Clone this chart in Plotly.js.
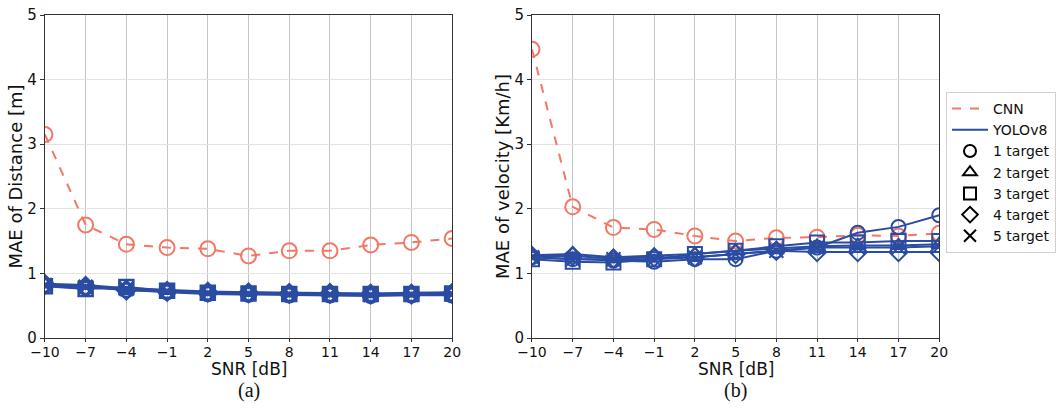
<!DOCTYPE html>
<html><head><meta charset="utf-8">
<script src="https://cdn.plot.ly/plotly-3.0.1.min.js"></script>
<style>html,body{margin:0;padding:0;background:#fff}#chart{width:1056px;height:417px}</style>
</head><body><div id="chart"></div>
<script>
const snr = [-10, -7, -4, -1, 2, 5, 8, 11, 14, 17, 20];
const tickLabels = ["−10", "−7", "−4", "−1", "2", "5", "8", "11", "14", "17", "20"];

const cnnDistance = [3.15, 1.75, 1.45, 1.40, 1.38, 1.27, 1.35, 1.35, 1.44, 1.48, 1.54];
const cnnVelocity = [4.47, 2.03, 1.71, 1.68, 1.58, 1.50, 1.55, 1.56, 1.59, 1.58, 1.62];

const yoloDist1 = [0.82, 0.78, 0.74, 0.71, 0.68, 0.67, 0.66, 0.66, 0.65, 0.66, 0.66];
const yoloDist2 = [0.84, 0.82, 0.77, 0.74, 0.72, 0.71, 0.70, 0.70, 0.69, 0.70, 0.71];
const yoloDist3 = [0.80, 0.76, 0.79, 0.73, 0.70, 0.69, 0.68, 0.68, 0.68, 0.68, 0.69];
const yoloDist4 = [0.83, 0.80, 0.74, 0.72, 0.71, 0.70, 0.69, 0.69, 0.68, 0.68, 0.69];
const yoloDist5 = [0.82, 0.79, 0.76, 0.73, 0.70, 0.69, 0.68, 0.68, 0.67, 0.67, 0.68];

const yoloVel1 = [1.25, 1.22, 1.20, 1.18, 1.22, 1.22, 1.35, 1.40, 1.63, 1.72, 1.90];
const yoloVel2 = [1.28, 1.30, 1.25, 1.27, 1.30, 1.35, 1.38, 1.42, 1.43, 1.43, 1.45];
const yoloVel3 = [1.22, 1.18, 1.17, 1.22, 1.30, 1.35, 1.42, 1.48, 1.48, 1.50, 1.50];
const yoloVel4 = [1.27, 1.27, 1.23, 1.25, 1.25, 1.30, 1.35, 1.33, 1.33, 1.33, 1.33];
const yoloVel5 = [1.25, 1.22, 1.22, 1.22, 1.25, 1.30, 1.35, 1.40, 1.40, 1.40, 1.42];

const targetNames = ["1 target", "2 target", "3 target", "4 target", "5 target"];
const symbols = ["circle-open", "triangle-up-open", "square-open", "diamond-open", "x-thin-open"];

const RED = "#F47766";
const BLUE = "#2A4CA2";
const FONT = "DejaVu Sans, sans-serif";

const traces = [];
function cnnTrace(y, xa, ya) {
  return {x: snr, y: y, xaxis: xa, yaxis: ya, mode: "lines+markers", showlegend: false,
    line: {color: RED, width: 2, dash: "dash"},
    marker: {symbol: "circle-open", size: 15, color: RED, line: {width: 2, color: RED}}};
}
traces.push(cnnTrace(cnnDistance, "x", "y"));
traces.push(cnnTrace(cnnVelocity, "x2", "y2"));

const distSets = [yoloDist1, yoloDist2, yoloDist3, yoloDist4, yoloDist5];
const velSets = [yoloVel1, yoloVel2, yoloVel3, yoloVel4, yoloVel5];
distSets.forEach((y, i) => traces.push({x: snr, y: y, xaxis: "x", yaxis: "y", mode: "lines+markers", showlegend: false,
  line: {color: BLUE, width: 2},
  marker: {symbol: symbols[i], size: 14, color: BLUE, line: {width: 2.5, color: BLUE}}}));
velSets.forEach((y, i) => traces.push({x: snr, y: y, xaxis: "x2", yaxis: "y2", mode: "lines+markers", showlegend: false,
  line: {color: BLUE, width: 2},
  marker: {symbol: symbols[i], size: 14, color: BLUE, line: {width: 2, color: BLUE}}}));

// legend-only entries
traces.push({x: [null], y: [null], xaxis: "x2", yaxis: "y2", mode: "lines", name: "CNN",
  line: {color: RED, width: 2, dash: "dash"}});
traces.push({x: [null], y: [null], xaxis: "x2", yaxis: "y2", mode: "lines", name: "YOLOv8",
  line: {color: BLUE, width: 2}});
targetNames.forEach((n, i) => traces.push({x: [null], y: [null], xaxis: "x2", yaxis: "y2", mode: "markers", name: n,
  marker: {symbol: symbols[i], size: 12, color: "#000", line: {width: 2, color: "#000"}}}));

function xaxisDef(domain, anchor) {
  return {domain: domain, anchor: anchor, range: [-10, 20], tickvals: snr, ticktext: tickLabels,
    showline: true, mirror: true, linecolor: "#333", linewidth: 1,
    showgrid: true, gridcolor: "#c4c4c4", gridwidth: 1, zeroline: false,
    ticks: "outside", ticklen: 3, tickcolor: "#333", ticklabelstandoff: -2,
    tickfont: {family: FONT, size: 14, color: "#111"}};
}
function yaxisDef(domain, anchor, title) {
  return {domain: domain, anchor: anchor, range: [0, 5], tickvals: [0, 1, 2, 3, 4, 5],
    showline: true, mirror: true, linecolor: "#333", linewidth: 1,
    showgrid: true, gridcolor: "#e3e3e3", gridwidth: 1, zeroline: false,
    ticks: "outside", ticklen: 4, tickcolor: "#333",
    tickfont: {family: FONT, size: 15, color: "#111"},
    title: {text: title, font: {family: FONT, size: 18, color: "#111"}, standoff: 0}};
}

function label(text, x, y, family, size) {
  return {text: text, xref: "paper", yref: "paper", x: x / 1056, y: 1 - y / 417,
    xanchor: "center", yanchor: "middle", showarrow: false,
    font: {family: family, size: size, color: "#111"}};
}

const layout = {
  width: 1056, height: 417,
  margin: {l: 0, r: 0, t: 0, b: 0},
  paper_bgcolor: "#fff", plot_bgcolor: "#fff",
  showlegend: true,
  xaxis: xaxisDef([45/1056, 453/1056], "y"),
  yaxis: yaxisDef([1 - 338/417, 1 - 15/417], "x", "MAE of Distance [m]"),
  xaxis2: xaxisDef([533/1056, 941/1056], "y2"),
  yaxis2: yaxisDef([1 - 338/417, 1 - 15/417], "x2", "MAE of velocity [Km/h]"),
  legend: {x: 948/1056, y: 1 - 92/417, xanchor: "left", yanchor: "top",
    bgcolor: "#fff", bordercolor: "#d0d0d0", borderwidth: 1,
    font: {family: FONT, size: 14, color: "#111"}, tracegroupgap: 0, itemwidth: 36},
  annotations: [
    label("SNR [dB]", 249, 369, FONT, 17),
    label("SNR [dB]", 737, 369, FONT, 17),
    label("(a)", 249, 390, "Liberation Serif, serif", 20),
    label("(b)", 737, 390, "Liberation Serif, serif", 20)
  ]
};

Plotly.newPlot("chart", traces, layout, {displayModeBar: false, staticPlot: true});
</script></body></html>
